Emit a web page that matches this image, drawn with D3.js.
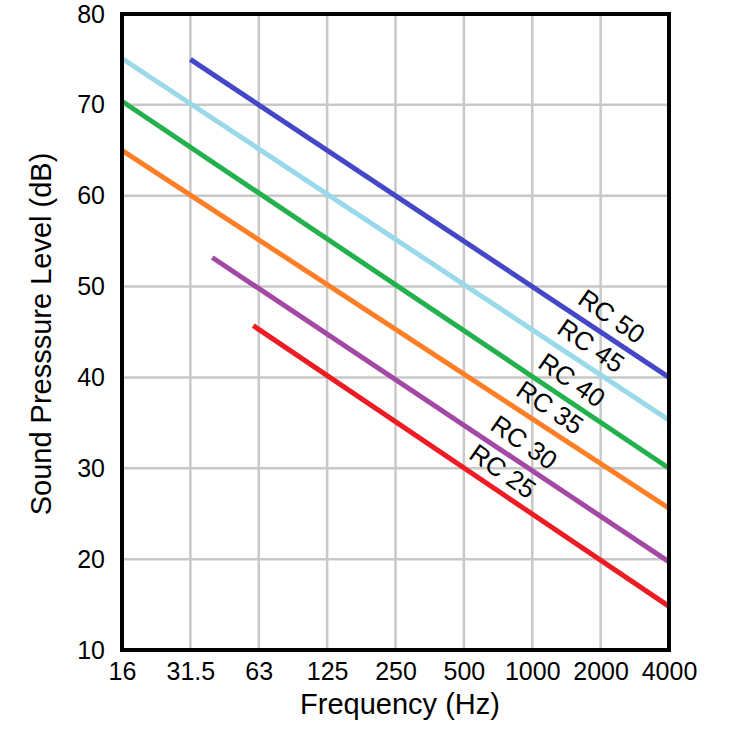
<!DOCTYPE html>
<html>
<head>
<meta charset="utf-8">
<script src="https://cdn.jsdelivr.net/npm/d3@7"></script>
<style>
  html, body { margin: 0; padding: 0; background: #fff; }
  svg { display: block; font-family: "Liberation Sans", Arial, sans-serif; }
</style>
</head>
<body>
<svg id="chart" width="750" height="750"></svg>
<script>
// ---- data ----
const freqLabels = ["16", "31.5", "63", "125", "250", "500", "1000", "2000", "4000"];
const yTicks = [10, 20, 30, 40, 50, 60, 70, 80];
const seriesNames = ["RC 50", "RC 45", "RC 40", "RC 35", "RC 30", "RC 25"];
const seriesColors = ["#4646c8", "#99d9ea", "#22b14c", "#ff7f27", "#a349a4", "#ed1c24"];
// start / end in octave-band index (0 = 16 Hz ... 8 = 4000 Hz)
const startBand = [1, 0, 0, 0, 1.32, 1.92];
const endBand   = [8, 8, 8, 8, 8, 8];
const startDb   = [75, 75.1, 70.4, 65, 53.2, 45.7];
const endDb     = [40, 35.3, 30, 25.6, 19.7, 14.8];
const labelBand = [7.16, 6.86, 6.58, 6.26, 5.88, 5.57];

(function () {
// ---- layout ----
const svg = d3.select("#chart");
const mLeft = 122, mRight = 669, mTop = 14, mBottom = 650;

const x = d3.scaleLinear().domain([0, freqLabels.length - 1]).range([mLeft, mRight]);
const y = d3.scaleLinear().domain([10, 80]).range([mBottom, mTop]);

// grid
const g = svg.append("g");
g.selectAll(".vgrid").data(d3.range(1, freqLabels.length - 1)).join("line")
  .attr("x1", d => x(d)).attr("x2", d => x(d))
  .attr("y1", mTop).attr("y2", mBottom)
  .attr("stroke", "#c8c8c8").attr("stroke-width", 2.5);
g.selectAll(".hgrid").data(yTicks.slice(1, -1)).join("line")
  .attr("x1", mLeft).attr("x2", mRight)
  .attr("y1", d => y(d)).attr("y2", d => y(d))
  .attr("stroke", "#c8c8c8").attr("stroke-width", 2.5);

// series lines
const series = seriesNames.map((name, i) => ({
  name, color: seriesColors[i],
  pts: [[startBand[i], startDb[i]], [endBand[i], endDb[i]]],
  labelBand: labelBand[i]
}));
const line = d3.line().x(d => x(d[0])).y(d => y(d[1]));
svg.append("g").selectAll("path").data(series).join("path")
  .attr("d", d => line(d.pts))
  .attr("fill", "none")
  .attr("stroke", d => d.color)
  .attr("stroke-width", 5);

// frame
svg.append("rect")
  .attr("x", mLeft).attr("y", mTop)
  .attr("width", mRight - mLeft).attr("height", mBottom - mTop)
  .attr("fill", "none").attr("stroke", "#000").attr("stroke-width", 4);

// series labels
function valAt(s, b) {
  const [p0, p1] = s.pts;
  return p0[1] + (p1[1] - p0[1]) * (b - p0[0]) / (p1[0] - p0[0]);
}
svg.append("g").selectAll("text").data(series).join("text")
  .attr("transform", d => {
    const [p0, p1] = d.pts;
    const ang = Math.atan2(y(p1[1]) - y(p0[1]), x(p1[0]) - x(p0[0])) * 180 / Math.PI;
    const cx = x(d.labelBand);
    const cy = y(valAt(d, d.labelBand)) - 23;
    return `translate(${cx},${cy}) rotate(${ang + 1})`;
  })
  .attr("text-anchor", "middle")
  .attr("dominant-baseline", "central")
  .attr("font-size", 26)
  .attr("fill", "#000")
  .text(d => d.name);

// axes
const xAxis = d3.axisBottom(x).tickValues(d3.range(freqLabels.length))
  .tickFormat(i => freqLabels[i]).tickSize(0).tickPadding(12);
const xg = svg.append("g").attr("transform", `translate(0,${mBottom})`).call(xAxis);
xg.select(".domain").remove();
xg.selectAll("text").attr("font-size", 25).attr("fill", "#000")
  .attr("font-family", "Liberation Sans, Arial, sans-serif");

const yAxis = d3.axisLeft(y).tickValues(yTicks).tickSize(0).tickPadding(17);
const yg = svg.append("g").attr("transform", `translate(${mLeft},0)`).call(yAxis);
yg.select(".domain").remove();
yg.selectAll("text").attr("font-size", 25).attr("fill", "#000")
  .attr("font-family", "Liberation Sans, Arial, sans-serif");

// axis titles
svg.append("text")
  .attr("x", 400).attr("y", 714)
  .attr("text-anchor", "middle")
  .attr("font-size", 29).attr("fill", "#000")
  .text("Frequency (Hz)");
svg.append("text")
  .attr("transform", `translate(51,334) rotate(-90)`)
  .attr("text-anchor", "middle")
  .attr("font-size", 29).attr("fill", "#000")
  .text("Sound Presssure Level (dB)");
})();
</script>
</body>
</html>
